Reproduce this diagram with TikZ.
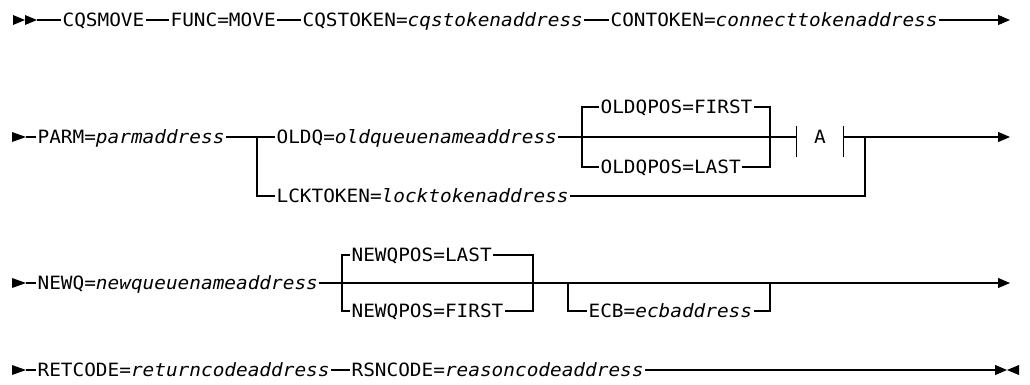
\documentclass[tikz,border=0pt]{standalone}
\usepackage{fontspec}
\setmonofont[FakeStretch=1.06]{DejaVu Sans Mono}
\usetikzlibrary{arrows.meta}
\begin{document}
\begin{tikzpicture}[x=1pt,y=-1pt,line width=1.2pt,
  txt/.style={inner xsep=1pt,inner ysep=0pt,text height=13.4pt,text depth=0pt,anchor=west,
    font=\fontsize{18.3}{20}\selectfont\ttfamily},
  endarrow/.style={-{Triangle[length=12pt,width=10pt]}},
  frag/.style={inner sep=0pt,minimum width=46pt,text height=13.4pt,text depth=0pt,
    font=\fontsize{18.3}{20}\selectfont\ttfamily}]
\useasboundingbox (0,0) rectangle (1030,384);
% ---------- row 1 ----------
\fill (13,15) -- (25,20) -- (13,25) -- cycle;
\fill (25,15) -- (37,20) -- (25,25) -- cycle;
\coordinate (s1) at (37,20);
\node[txt] (cqsmove) at (61,20) {CQSMOVE};
\node[txt] (func) at (169,20) {FUNC=MOVE};
\node[txt] (cqstoken) at (301,20) {CQSTOKEN=\textit{cqstokenaddress}};
\node[txt] (contoken) at (609,20) {CONTOKEN=\textit{connecttokenaddress}};
\coordinate (e1) at (1010,20);
\draw (s1) -- (cqsmove);
\draw (cqsmove) -- (func);
\draw (func) -- (cqstoken);
\draw (cqstoken) -- (contoken);
\draw[endarrow] (contoken) -- (e1);
% ---------- row 2 ----------
\fill (12,132) -- (26,137) -- (12,142) -- cycle;
\coordinate (s2) at (26,137);
\node[txt] (parm) at (36,137) {PARM=\textit{parmaddress}};
\coordinate (j1) at (257,137);
\node[txt] (oldq) at (275,137) {OLDQ=\textit{oldqueuenameaddress}};
\node[txt] (lck) at (275,196) {LCKTOKEN=\textit{locktokenaddress}};
\coordinate (j2) at (582,137);
\node[txt] (ofirst) at (599,107) {OLDQPOS=FIRST};
\node[txt] (olast) at (599,167) {OLDQPOS=LAST};
\coordinate (j3) at (770,137);
\node[frag] (afrag) at (820,137) {A};
\coordinate (j4) at (865,137);
\coordinate (e2) at (1010,137);
\draw (s2) -- (parm);
\draw (parm) -- (oldq);
\draw (j1) |- (lck);
\draw (ofirst) -| (j2) |- (olast);
\draw (ofirst) -| (j3) |- (olast);
\draw (oldq) -- (afrag);
\draw ([yshift=11pt]afrag.west) -- ([yshift=-20pt]afrag.west);
\draw ([yshift=11pt]afrag.east) -- ([yshift=-20pt]afrag.east);
\draw[endarrow] (afrag) -- (e2);
\draw (lck) -| (j4);
% ---------- row 3 ----------
\fill (12,278) -- (26,283) -- (12,288) -- cycle;
\coordinate (s3) at (26,283);
\node[txt] (newq) at (36,283) {NEWQ=\textit{newqueuenameaddress}};
\coordinate (j5) at (342,283);
\node[txt] (nlast) at (350,255) {NEWQPOS=LAST};
\node[txt] (nfirst) at (350,311) {NEWQPOS=FIRST};
\coordinate (j6) at (533,283);
\coordinate (j7) at (568,283);
\node[txt] (ecb) at (587,311) {ECB=\textit{ecbaddress}};
\coordinate (j8) at (770,283);
\coordinate (e3) at (1010,283);
\draw (s3) -- (newq);
\draw[endarrow] (newq) -- (e3);
\draw (nlast) -| (j5) |- (nfirst);
\draw (nlast) -| (j6) |- (nfirst);
\draw (j7) |- (ecb);
\draw (ecb) -| (j8);
% ---------- row 4 ----------
\fill (12,365) -- (26,370) -- (12,375) -- cycle;
\coordinate (s4) at (26,370);
\node[txt] (ret) at (36,370) {RETCODE=\textit{returncodeaddress}};
\node[txt] (rsn) at (350,370) {RSNCODE=\textit{reasoncodeaddress}};
\coordinate (e4) at (1007,370);
\draw (s4) -- (ret);
\draw (ret) -- (rsn);
\draw[endarrow] (rsn) -- (e4);
\fill (1019,365) -- (1007,370) -- (1019,375) -- cycle;
\end{tikzpicture}
\end{document}
